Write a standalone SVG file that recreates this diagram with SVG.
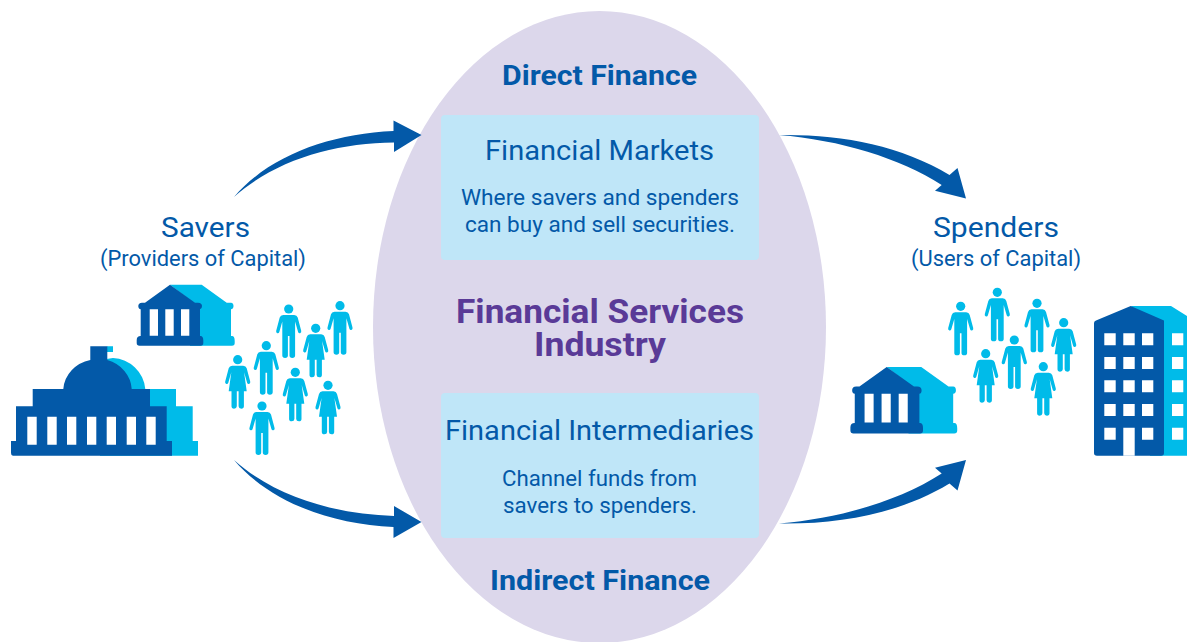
<svg xmlns="http://www.w3.org/2000/svg" width="1187" height="642" viewBox="0 0 1187 642">
<style>
text{font-family:"Roboto","Liberation Sans",sans-serif;text-anchor:middle}
.h{font-size:28px;fill:#0359a8;font-weight:700}
.t{font-size:28px;fill:#0359a8}
.s{font-size:21.5px;fill:#0359a8}
.p{font-size:33px;fill:#5a3a97;font-weight:700}
.d{fill:#0359a8}.l{fill:#00bbe9}.w{fill:#fff}
.box{fill:#bfe6f8}
.arrow{fill:#0359a8}
</style>
<defs>
<g id="man" class="l">
<circle r="4.6" cy="0"/>
<path d="M-5.5 6H5.5Q8.2 6 9 8.6L12.5 21.8Q13 23.8 11.4 24.2Q9.9 24.5 9.4 23L6.4 12.6V46.6Q6.4 49 3.6 49Q.8 49 .8 46.6V27H-.8V46.6Q-.8 49-3.6 49Q-6.4 49-6.4 46.6V12.6L-9.4 23Q-9.9 24.5-11.4 24.2Q-13 23.8-12.5 21.8L-9 8.6Q-8.2 6-5.5 6Z"/>
</g>
<g id="woman" class="l">
<circle r="4.6" cy="0"/>
<path d="M-5.5 6H5.5Q8.2 6 9 8.6L12.5 21.8Q13 23.8 11.4 24.2Q9.9 24.5 9.4 23L6.4 12.6L9 31.5H6.2V46.6Q6.2 49 3.6 49Q1 49 .9 46.6V31.5H-.9V46.6Q-1 49-3.6 49Q-6.2 49-6.2 46.6V31.5H-9L-6.4 12.6L-9.4 23Q-9.9 24.5-11.4 24.2Q-13 23.8-12.5 21.8L-9 8.6Q-8.2 6-5.5 6Z"/>
</g>
<g id="bank">
<path class="l" d="M170 284.700H201.700L226.700 302.700H231Q233.500 303 233.500 306Q233.500 309 231 309.300V336H232Q234.700 336 234.700 341V343Q234.700 345.700 232 345.700H190V300L170 284.700Z"/>
<path class="d" d="M170 284.700L195 302.700H198Q202 303 202 306Q202 309 200 309.300V336H200.500Q203.300 336 203.300 340.500V343Q203.300 345.700 200.500 345.700H139.500Q136.700 345.700 136.700 343V340Q136.700 336 140.700 336V309.300Q138.300 309 138.300 306Q138.300 303 142 302.700H145Z"/>
<path class="w" d="M149.700 309.300H158V335.700H149.700ZM165.300 309.300H173.700V335.700H165.300ZM181 309.300H189.300V335.700H181Z"/>
</g>
</defs>

<g id="industry">
<ellipse cx="599.500" cy="327" rx="226.500" ry="316" fill="#dcd7eb"/>
<text class="h" x="599.500" y="85" textLength="195" lengthAdjust="spacingAndGlyphs">Direct Finance</text>
<text class="p" x="600" y="323" textLength="288" lengthAdjust="spacingAndGlyphs">Financial Services</text>
<text class="p" x="600" y="356" textLength="132" lengthAdjust="spacingAndGlyphs">Industry</text>
<text class="h" x="600" y="590" textLength="220" lengthAdjust="spacingAndGlyphs">Indirect Finance</text>
</g>

<g id="markets">
<rect class="box" x="441" y="115" width="318" height="145" rx="4"/>
<text class="t" x="599.500" y="160" textLength="229" lengthAdjust="spacingAndGlyphs">Financial Markets</text>
<text class="s" x="600" y="205" textLength="278" lengthAdjust="spacingAndGlyphs">Where savers and spenders</text>
<text class="s" x="600" y="232" textLength="270" lengthAdjust="spacingAndGlyphs">can buy and sell securities.</text>
</g>

<g id="intermediaries">
<rect class="box" x="441" y="393" width="318" height="145" rx="4"/>
<text class="t" x="599.500" y="440" textLength="309" lengthAdjust="spacingAndGlyphs">Financial Intermediaries</text>
<text class="s" x="599.500" y="486" textLength="195" lengthAdjust="spacingAndGlyphs">Channel funds from</text>
<text class="s" x="600" y="513" textLength="194" lengthAdjust="spacingAndGlyphs">savers to spenders.</text>
</g>

<g id="connectors">
<path class="arrow" d="M234 197C270 155 330 134 393.500 131V120.500L421.500 135L394 152V142.500C335 143 275 160 234 197Z"/>
<path class="arrow" d="M234 460C275 497 335 514 394 516V506L421.500 522L393.500 538V527C330 524 270 502 234 460Z"/>
<path class="arrow" d="M779 135C840 134 900 145 949.500 175L957.500 168L966 198.500L935 190.700L941.700 185C900 158 840 140 779 135Z"/>
<path class="arrow" d="M779 523.500C840 518.500 900 500.500 941.700 473.500L935 467.800L966 460L957.500 490.500L949.500 483.500C900 513.500 840 524.500 779 523.500Z"/>
</g>

<g id="savers">
<text class="t" x="205.500" y="237" textLength="89" lengthAdjust="spacingAndGlyphs">Savers</text>
<text class="s" x="203" y="265.500" textLength="206" lengthAdjust="spacingAndGlyphs">(Providers of Capital)</text>
<use href="#bank"/>
<g id="capitol">
<path class="l" d="M107 346.300H113V352H107ZM113 358A34 34 0 0 1 145.300 389H176V406.300H192.700V441H198V455.700H100V360Z"/>
<path class="d" d="M90.300 346.300H107.300V360A34.200 32 0 0 1 131.700 389H150V406.300H166.700V441H172V455.700H13Q11 455.700 11 453V441H16V406.300H32.700V389H63.300A34.200 32 0 0 1 90.300 360Z"/>
<path class="w" d="M27.300 416.700H36.700V444.700H27.300ZM47.300 416.700H56.700V444.700H47.300ZM67 416.700H76.300V444.700H67ZM87 416.700H96.300V444.700H87ZM106.700 416.700H116V444.700H106.700ZM126.700 416.700H136V444.700H126.700ZM146.300 416.700H155.700V444.700H146.300Z"/>
</g>
<use href="#man" x="288.700" y="309"/>
<use href="#man" x="340" y="305.700"/>
<use href="#man" x="266.300" y="345.700"/>
<use href="#man" x="262" y="406"/>
<use href="#woman" x="315.700" y="328.300"/>
<use href="#woman" x="237.700" y="359.700"/>
<use href="#woman" x="295.300" y="372.300"/>
<use href="#woman" x="328" y="385.300"/>
</g>

<g id="spenders">
<text class="t" x="996" y="237" textLength="126" lengthAdjust="spacingAndGlyphs">Spenders</text>
<text class="s" x="996" y="265.500" textLength="170" lengthAdjust="spacingAndGlyphs">(Users of Capital)</text>
<use href="#bank" transform="translate(886.700 367) scale(1.09) translate(-170 -284.700)"/>
<use href="#man" x="960.700" y="306.300"/>
<use href="#man" x="997.300" y="292.300"/>
<use href="#man" x="1037" y="303.300"/>
<use href="#man" x="1014.300" y="340"/>
<use href="#woman" x="1063.700" y="322.700"/>
<use href="#woman" x="985.700" y="353.700"/>
<use href="#woman" x="1043.300" y="366.700"/>
<g id="tower">
<path class="l" d="M1130.700 306H1171L1187 316V455.700H1150V320Z"/>
<path class="d" d="M1130.700 306L1164 320.500V453Q1164 455.700 1161 455.700H1097Q1094 455.700 1094 453V323Q1094 321 1096 320.500Z"/>
<path class="w" d="M1104.300 333.300h11.400v12h-11.400zM1123.300 333.300h11.400v12h-11.400zM1142 333.300h11.300v12h-11.300zM1172 333.300h11.300v12h-11.300zM1104.300 357h11.400v12h-11.400zM1123.300 357h11.400v12h-11.400zM1142 357h11.300v12h-11.300zM1172 357h11.300v12h-11.300zM1104.300 380.300h11.400v12h-11.400zM1123.300 380.300h11.400v12h-11.400zM1142 380.300h11.300v12h-11.300zM1172 380.300h11.300v12h-11.300zM1104.300 404h11.400v12h-11.400zM1123.300 404h11.400v12h-11.400zM1142 404h11.300v12h-11.300zM1172 404h11.300v12h-11.300zM1104.300 427.700h11.400v12h-11.400zM1123.300 427.700h11.400v28h-11.400zM1142 427.700h11.300v12h-11.300zM1172 427.700h11.300v12h-11.300z"/>
</g>
</g>
</svg>
